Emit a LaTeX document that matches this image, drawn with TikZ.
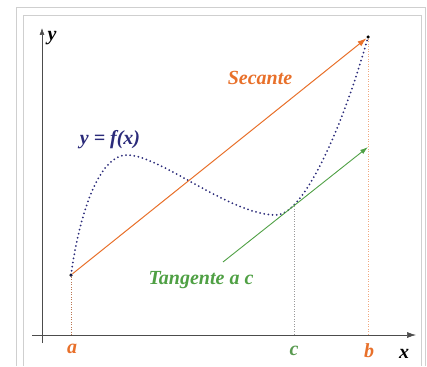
\documentclass[tikz,border=0pt]{standalone}
\usepackage{fontspec}
\setmainfont{Liberation Serif}
\usetikzlibrary{arrows.meta}
\definecolor{navy}{HTML}{2B2B7A}
\definecolor{secorange}{HTML}{E8702A}
\definecolor{tangreen}{HTML}{4FA044}
\definecolor{framegray}{HTML}{CFCFCF}
\tikzset{
  lbl/.style={font=\fontsize{20}{20}\selectfont\bfseries\itshape, inner sep=0pt},
  axisline/.style={draw=black!70, line width=0.6pt},
  guide/.style={line width=0.7pt, dash pattern=on 1pt off 1.5pt},
  curve/.style={navy, line width=2pt, line cap=round, dash pattern=on 0pt off 4.2pt},
  pt/.style={circle, fill=black, inner sep=0pt, minimum size=3.5pt},
}
\begin{document}
\begin{tikzpicture}[x=1pt,y=-1pt]
\useasboundingbox (0,0) rectangle (427,366);
% frame
\draw[framegray, line width=0.8pt] (16,366) -- (16,7) -- (425,7) -- (425,366);
\draw[framegray, line width=0.8pt] (23,366) -- (23,15) -- (421,15) -- (421,366);
% axes
\coordinate (yb) at (42,343);
\coordinate (yt) at (42,28);
\coordinate (xl) at (32,335);
\coordinate (xr) at (416,335);
\draw[axisline, -{Latex[length=7pt,width=5pt]}] (yb) -- (yt);
\draw[axisline, -{Latex[length=9pt,width=6pt]}] (xl) -- (xr);
\node[lbl] (ylab) at (52,38) {y};
\node[lbl] (xlab) at (404,354) {x};
% key points
\node[pt] (A) at (71,275) {};
\node[pt] (B) at (368,37) {};
\coordinate (C) at (294,206);
\coordinate (Af) at (71,335);
\coordinate (Bf) at (368,335);
\coordinate (Cf) at (294,335);
% guides
\draw[guide, secorange!55!gray] (A) -- (Af);
\draw[guide, secorange!60] (B) -- (Bf);
\draw[guide, gray!80] (C) -- (Cf);
% curve
\draw[curve] (A.center) .. controls (80,210) and (100,155) .. (127,155)
  .. controls (160,155) and (230,215) .. (276,215)
  .. controls (305,215) and (345,120) .. (B.center);
% secant
\draw[secorange, line width=1pt, -{Latex[length=9pt,width=6pt]}] (A) -- (B);
% tangent
\coordinate (T1) at (223,262);
\coordinate (T2) at (368,147);
\draw[tangreen, line width=0.9pt, -{Latex[length=8pt,width=5pt]}] (T1) -- (T2);
% labels
\node[lbl, secorange] (sec) at (260,78) {Secante};
\node[lbl, navy] (fx) at (110,140) {y = f(x)};
\node[lbl, tangreen] (tan) at (201,280) {Tangente a c};
\node[lbl, secorange] (alab) at (72,349) {a};
\node[lbl, tangreen!80!gray] (clab) at (294,351) {c};
\node[lbl, secorange] (blab) at (369,351) {b};
\end{tikzpicture}
\end{document}
